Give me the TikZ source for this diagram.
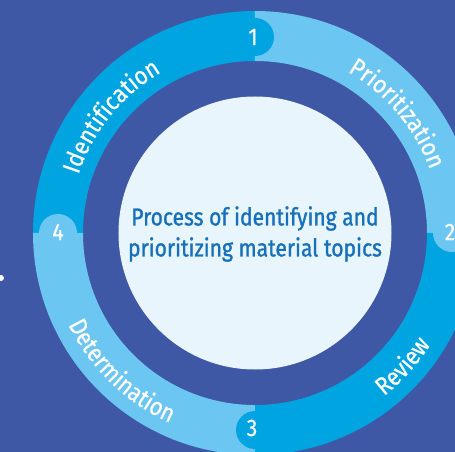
\documentclass[tikz,border=0pt]{standalone}
\usepackage{fontspec}
\setmainfont{Fira Sans}
\newfontfamily\labelfont[FakeStretch=0.88,FakeBold=0.6]{Fira Sans}
\newfontfamily\corefont[FakeStretch=0.86,FakeBold=1.2]{Fira Sans}
\usetikzlibrary{decorations.text}
\definecolor{bgblue}{RGB}{63,88,165}
\definecolor{segdark}{RGB}{0,164,224}
\definecolor{seglight}{RGB}{108,198,242}
\definecolor{corefill}{RGB}{232,245,253}
\definecolor{coretext}{RGB}{22,112,186}
\tikzset{
  numlabel/.style={text=white,font=\labelfont\fontsize{24}{24}\selectfont,inner sep=0pt},
  arclabel/.style={decorate,decoration={text along path,text align=center,
     text={|\color{white}\labelfont\fontsize{25}{25}\selectfont|#1}}}
}
\begin{document}
\begin{tikzpicture}[x=1pt,y=1pt]
\fill[bgblue] (-255,-219) rectangle (200,233);
\useasboundingbox (-255,-219) rectangle (200,233);
% ring segments
\fill[segdark] (90:222) arc[start angle=90,end angle=180,radius=222] -- (180:172) arc[start angle=180,end angle=90,radius=172] -- cycle;
\fill[seglight] (0:222) arc[start angle=0,end angle=90,radius=222] -- (90:172) arc[start angle=90,end angle=0,radius=172] -- cycle;
\fill[segdark] (-90:222) arc[start angle=-90,end angle=0,radius=222] -- (0:172) arc[start angle=0,end angle=-90,radius=172] -- cycle;
\fill[seglight] (180:222) arc[start angle=180,end angle=270,radius=222] -- (270:172) arc[start angle=270,end angle=180,radius=172] -- cycle;
% tabs
\fill[segdark] (0,196) circle[radius=19];
\fill[seglight] (197,0) circle[radius=19];
\fill[segdark] (0,-197) circle[radius=19];
\fill[seglight] (-197,0) circle[radius=19];
% numbers
\node[numlabel] (n1) at (-2,196) {1};
\node[numlabel] (n2) at (195,1) {2};
\node[numlabel] (n3) at (-3,-195) {3};
\node[numlabel] (n4) at (-197,1) {4};
% arc labels
\path[arclabel=Identification] (176:186) arc[start angle=176,end angle=106,radius=186];
\path[arclabel=Prioritization] (76:186) arc[start angle=76,end angle=4,radius=186];
\path[arclabel=Review] (-72:208) arc[start angle=-72,end angle=-12,radius=208];
\path[arclabel=Determination] (190:208) arc[start angle=190,end angle=262,radius=208];
% core
\node[circle,fill=corefill,minimum size=273,inner sep=0pt] (core) at (0,0) {};
\node[text=coretext,align=center,font=\corefont\fontsize{24.5}{31}\selectfont] (coretxt) at (0,-1) {Process of identifying and\\prioritizing material topics};
% small dot
\fill[white] (-254,-45) circle[radius=3];
\end{tikzpicture}
\end{document}
